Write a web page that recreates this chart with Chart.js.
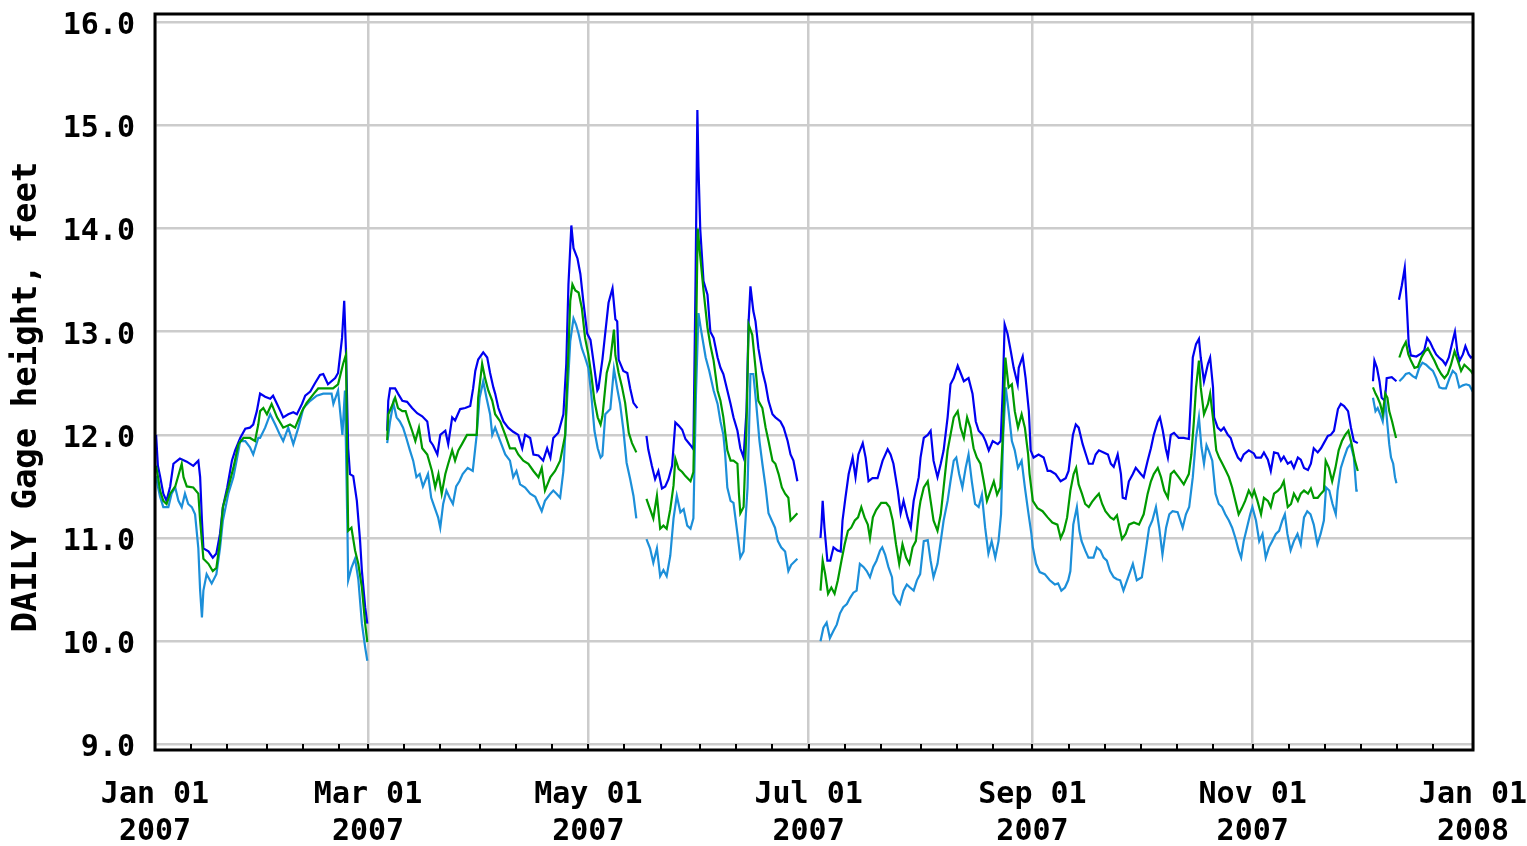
<!DOCTYPE html>
<html lang="en">
<head>
  <meta charset="UTF-8">
  <title>DAILY Gage height, feet - 2007</title>
  <script src="https://cdn.jsdelivr.net/npm/chart.js"></script>
  <style>
    html, body { margin: 0; padding: 0; background: #ffffff; }
    #wrap { width: 1527px; height: 846px; position: relative; }
  </style>
</head>
<body>
  <div id="wrap"><canvas id="gageChart"></canvas></div>

  <script>
    // day offset from Jan 01 2007, gage height in feet; null = no data
    const maxSeries = [
      [0.3,12.0],[0.8,11.7],[1.4,11.6],[2.3,11.43],[3.2,11.36],[4.2,11.5],[5.1,11.72],[6.9,11.77],[8.8,11.74],[10.6,11.7],[12,11.75],[12.5,11.59],[13,11.17],[13.4,10.9],[14.8,10.87],[16,10.81],[17,10.85],[18,11.04],[18.8,11.3],[20,11.49],[21.3,11.75],[22.2,11.85],[23.6,11.97],[25,12.06],[26.3,12.07],[27.2,12.1],[28.2,12.23],[29.1,12.4],[30.5,12.37],[31.9,12.35],[32.7,12.38],[33.8,12.3],[34.6,12.24],[35.5,12.17],[36.9,12.2],[38.3,12.22],[39.3,12.2],[40.7,12.3],[41.6,12.38],[43,12.42],[44.3,12.5],[45.7,12.58],[46.6,12.59],[47.9,12.49],[49.9,12.55],[50.7,12.6],[51.8,12.94],[52.4,13.3],[52.9,12.8],[53.5,11.87],[54,11.62],[54.9,11.6],[55.9,11.36],[56.8,10.97],[57.3,10.68],[58.2,10.33],[58.8,10.17],
      null,
      [64.3,12.04],[64.6,12.33],[65.1,12.45],[66.5,12.45],[67.3,12.4],[68.5,12.33],[69.8,12.32],[71.2,12.26],[72.6,12.21],[74,12.18],[75.4,12.13],[76.2,11.94],[77,11.9],[78.2,11.81],[79,12.0],[80.4,12.04],[81.2,11.91],[82.3,12.17],[83.1,12.14],[84.5,12.25],[85.9,12.26],[87.3,12.28],[88.1,12.45],[88.7,12.62],[89.5,12.73],[90.9,12.8],[92,12.75],[92.8,12.6],[93.7,12.46],[94.2,12.4],[95.1,12.26],[96.5,12.13],[97.8,12.07],[99.2,12.03],[100.6,12.0],[101.7,11.87],[102.5,12.0],[103.9,11.97],[104.8,11.81],[106.2,11.8],[107.5,11.75],[108.6,11.87],[109.5,11.78],[110.3,11.97],[111.7,12.02],[113.1,12.2],[113.9,12.69],[114.5,13.46],[115.3,14.03],[115.9,13.81],[117,13.71],[117.8,13.56],[118.6,13.3],[119.7,12.98],[120.6,12.92],[121.4,12.72],[122.5,12.43],[122.8,12.45],[123.9,12.73],[124.7,12.99],[125.6,13.28],[126.7,13.42],[127.5,13.12],[128,13.1],[128.4,12.73],[129.7,12.62],[130.8,12.6],[131.6,12.45],[132.5,12.31],[133.6,12.26],
      null,
      [136.1,11.99],[136.6,11.86],[137.6,11.7],[138.5,11.57],[139.4,11.65],[140.4,11.48],[141.3,11.5],[142.2,11.57],[143.2,11.7],[144.1,12.12],[145,12.09],[146,12.05],[146.9,11.96],[148.3,11.9],[149.1,11.86],[149.7,13.5],[150.2,15.15],[150.5,14.6],[151,13.99],[151.9,13.49],[153,13.36],[153.8,13.0],[154.7,12.94],[155.8,12.75],[156.6,12.65],[157.4,12.59],[158.5,12.43],[159.4,12.3],[160.2,12.17],[161.3,12.04],[162.1,11.87],[163,11.78],[163.8,12.23],[164.4,13.1],[164.9,13.44],[165.7,13.2],[166.3,13.1],[167.1,12.84],[168.2,12.62],[169.1,12.49],[169.9,12.33],[171,12.2],[171.8,12.17],[173.2,12.13],[174.1,12.07],[175.2,11.94],[176,11.81],[176.8,11.75],[177.9,11.55],
      null,
      [184.3,11.0],[184.6,11.15],[184.9,11.36],[185.4,11.1],[186.2,10.78],[187,10.78],[187.9,10.91],[189,10.88],[189.9,10.87],[190.4,11.17],[191.2,11.39],[192.1,11.62],[193.2,11.78],[194,11.59],[194.8,11.81],[196,11.92],[196.8,11.78],[197.6,11.55],[198.7,11.58],[200.1,11.58],[201.5,11.75],[202.9,11.86],[203.7,11.81],[204.5,11.72],[205.7,11.46],[206.5,11.24],[207.3,11.36],[208.4,11.2],[209.3,11.1],[210.1,11.36],[211.5,11.59],[212,11.78],[212.9,11.97],[214,12.0],[214.8,12.04],[215.6,11.75],[216.7,11.59],[217.6,11.72],[218.4,11.85],[219.5,12.17],[220.3,12.49],[221.2,12.55],[222.3,12.67],[223.1,12.6],[224,12.52],[225.3,12.55],[226.4,12.4],[227.3,12.13],[228.1,12.04],[229.2,12.0],[230,11.94],[230.9,11.85],[232,11.94],[233.4,11.91],[234.2,11.94],[234.8,12.46],[235.3,13.07],[236.1,12.98],[237,12.81],[237.8,12.65],[238.9,12.49],[239.2,12.65],[240.3,12.76],[241.1,12.55],[242,12.23],[242.5,11.85],[243.3,11.78],[244.7,11.81],[246.1,11.78],[247.2,11.65],[248,11.65],[249.4,11.62],[250.8,11.55],[252.2,11.58],[253,11.65],[254.2,12.0],[255,12.1],[255.8,12.07],[256.9,11.91],[257.8,11.81],[258.6,11.72],[259.7,11.72],[260.5,11.81],[261.4,11.85],[262.7,11.83],[263.9,11.81],[264.7,11.72],[265.5,11.69],[266.6,11.81],[267.5,11.62],[268,11.39],[268.8,11.38],[269.7,11.55],[270.8,11.62],[271.6,11.68],[273,11.62],[273.8,11.59],[274.9,11.75],[275.8,11.87],[276.6,12.0],[277.7,12.13],[278.3,12.17],[279.1,12.04],[279.9,11.87],[280.5,11.78],[281.3,12.0],[282.2,12.02],[283.5,11.97],[284.9,11.97],[286.3,11.96],[286.9,12.36],[287.4,12.75],[288.3,12.88],[289.1,12.93],[289.6,12.75],[290.5,12.52],[291.6,12.69],[292.2,12.75],[293,12.46],[293.3,12.17],[294.3,12.07],[295.2,12.04],[296,12.07],[297.1,12.0],[297.9,11.97],[298.8,11.87],[299.9,11.78],[300.7,11.75],[301.5,11.81],[302.9,11.85],[304.3,11.82],[304.9,11.78],[306.3,11.78],[307.1,11.83],[308.2,11.76],[309,11.65],[309.9,11.83],[311,11.82],[311.8,11.75],[312.6,11.79],[313.7,11.72],[314.6,11.74],[315.4,11.68],[316.5,11.78],[317.3,11.76],[318.2,11.68],[319.3,11.66],[320.1,11.72],[320.9,11.87],[322,11.83],[322.9,11.87],[323.7,11.92],[324.8,11.99],[325.6,12.0],[326.5,12.04],[327.6,12.25],[328.4,12.3],[329.3,12.28],[330.4,12.23],[331.2,12.07],[332,11.94],[333.1,11.92],
      null,
      [337.3,12.52],[337.7,12.72],[338.4,12.65],[339.1,12.52],[339.7,12.36],[340.6,12.33],[341.1,12.55],[342.5,12.56],[343.8,12.52],
      null,
      [344.5,13.31],[345.3,13.45],[346.1,13.62],[346.6,13.3],[347.2,12.88],[347.8,12.77],[349.3,12.76],[350.7,12.79],[351.5,12.82],[352.3,12.94],[353.1,12.9],[353.9,12.84],[354.8,12.78],[355.6,12.75],[356.6,12.72],[357.4,12.68],[358.3,12.75],[359.5,12.93],[360,13.0],[360.7,12.8],[361.3,12.72],[362.2,12.78],[362.9,12.86],[363.8,12.78],[364.4,12.75],[365,12.76]
    ];

    const meanSeries = [
      [0.3,11.7],[0.8,11.6],[1.4,11.46],[2.3,11.36],[3.2,11.33],[4.2,11.43],[5.6,11.5],[7.4,11.72],[7.9,11.59],[8.8,11.5],[10.6,11.49],[12,11.43],[12.5,11.17],[13.4,10.8],[14.8,10.75],[16,10.68],[17,10.71],[18,10.97],[18.8,11.3],[20.3,11.49],[21.7,11.68],[23.1,11.91],[24.5,11.97],[26.3,11.97],[27.7,11.94],[28.6,12.1],[29.1,12.23],[30,12.26],[31,12.2],[32.3,12.3],[33.8,12.17],[35.5,12.07],[37.4,12.1],[38.8,12.07],[40.7,12.23],[42,12.31],[44,12.4],[45.2,12.45],[47.4,12.45],[49.3,12.45],[50.7,12.49],[52.1,12.69],[52.9,12.78],[53.3,11.55],[53.5,11.07],[54.4,11.1],[55.4,10.88],[56.3,10.75],[57.3,10.52],[58.2,10.17],[58.8,9.99],
      null,
      [64.3,11.95],[64.6,12.2],[65.6,12.28],[66.5,12.36],[67.3,12.26],[68.5,12.23],[69.4,12.23],[70.3,12.13],[71.2,12.04],[72.1,11.94],[73.1,12.07],[74,11.87],[75.4,11.81],[76.7,11.65],[77.6,11.49],[78.5,11.62],[79.4,11.43],[80.4,11.62],[81.2,11.72],[82.3,11.85],[83.1,11.75],[84,11.85],[85,11.91],[86.4,12.0],[87.8,12.0],[89.1,12.0],[89.5,12.36],[90.6,12.69],[91.4,12.55],[92.3,12.43],[93.4,12.33],[94.2,12.2],[95.6,12.13],[97,12.0],[98.3,11.87],[99.7,11.87],[100.6,11.81],[102,11.75],[103.4,11.72],[104.8,11.65],[106.2,11.59],[107.1,11.68],[108,11.46],[109.5,11.59],[110.8,11.65],[112.2,11.75],[113.6,12.0],[114.3,12.65],[115,13.3],[115.6,13.46],[116.4,13.4],[117.3,13.38],[118.2,13.23],[119.1,12.94],[120,12.78],[120.8,12.59],[121.7,12.33],[122.6,12.17],[123.4,12.1],[123.9,12.18],[125.1,12.6],[126.1,12.73],[127.1,13.02],[127.5,12.77],[128.4,12.6],[129.3,12.47],[130.2,12.31],[131.2,12.02],[132.1,11.92],[133.3,11.83],
      null,
      [136.1,11.38],[137.1,11.28],[138,11.19],[139,11.41],[139.9,11.09],[140.8,11.12],[141.7,11.09],[142.7,11.28],[143.6,11.51],[144.1,11.77],[145,11.67],[146,11.64],[146.9,11.6],[148.3,11.55],[149.1,11.64],[149.8,12.86],[150.3,14.0],[151,13.73],[151.9,13.4],[153,13.04],[153.8,12.87],[154.7,12.72],[155.8,12.43],[156.6,12.33],[157.4,12.17],[158.5,11.85],[159.4,11.75],[160.2,11.75],[161.3,11.72],[161.7,11.43],[162.1,11.24],[163,11.3],[163.8,12.07],[164.4,13.07],[165.4,12.97],[166.3,12.65],[167.1,12.33],[168.2,12.26],[169.1,12.07],[169.9,11.94],[171,11.75],[171.8,11.72],[172.7,11.62],[173.6,11.49],[174.5,11.43],[175.4,11.39],[176,11.17],[176.8,11.2],[177.9,11.24],
      null,
      [184.3,10.49],[184.9,10.78],[185.6,10.65],[186.4,10.46],[187.3,10.52],[188.2,10.46],[189.1,10.59],[190.1,10.78],[191,10.94],[191.9,11.07],[192.8,11.1],[193.8,11.17],[194.7,11.2],[195.6,11.3],[196.5,11.2],[197.4,11.13],[198,11.0],[198.8,11.2],[199.7,11.27],[201.1,11.34],[202.5,11.34],[203.4,11.3],[204.3,11.17],[205.2,10.94],[206.1,10.75],[207,10.94],[208,10.81],[208.9,10.75],[209.8,10.91],[210.7,10.97],[211.6,11.27],[212,11.36],[212.9,11.49],[214,11.55],[214.8,11.36],[215.6,11.17],[216.7,11.07],[217.6,11.23],[218.4,11.49],[219.5,11.85],[220.3,12.0],[221.2,12.17],[222.3,12.23],[223.1,12.07],[224,11.97],[224.9,12.17],[225.8,12.07],[226.7,11.87],[227.6,11.78],[228.6,11.72],[229.5,11.55],[230.4,11.36],[231.3,11.45],[232.3,11.55],[233.2,11.42],[234.1,11.49],[234.8,12.0],[235.5,12.75],[236.4,12.46],[237.3,12.49],[238.1,12.23],[239,12.07],[240,12.2],[240.9,12.07],[241.8,11.81],[242.2,11.62],[243.1,11.36],[244.4,11.29],[245.8,11.26],[247.2,11.2],[248.5,11.15],[249.9,11.13],[250.8,11.0],[251.7,11.07],[252.6,11.2],[253.5,11.46],[254.4,11.62],[255.1,11.68],[255.8,11.52],[256.7,11.43],[257.6,11.33],[258.6,11.3],[259.5,11.35],[260.4,11.39],[261.4,11.43],[262.3,11.33],[263.2,11.26],[264.6,11.2],[265.5,11.18],[266.4,11.22],[267.3,11.07],[267.8,10.99],[268.8,11.04],[269.7,11.13],[271.1,11.15],[272.5,11.13],[273.8,11.23],[274.9,11.43],[275.8,11.55],[276.6,11.62],[277.7,11.68],[278.6,11.59],[279.5,11.46],[280.5,11.39],[281.3,11.62],[282.2,11.65],[283.5,11.59],[284.9,11.52],[286.3,11.62],[287,11.81],[287.7,12.13],[288.3,12.46],[289.1,12.72],[289.6,12.46],[290.5,12.2],[291.6,12.3],[292.2,12.4],[293.1,12.13],[293.9,11.85],[294.7,11.78],[295.6,11.72],[296.6,11.65],[297.4,11.59],[298.3,11.49],[299.2,11.36],[300.1,11.23],[301,11.29],[301.9,11.36],[302.9,11.46],[303.8,11.4],[304.4,11.46],[305.3,11.36],[306.3,11.23],[307.1,11.39],[308.2,11.36],[309,11.3],[309.9,11.43],[311,11.46],[311.8,11.49],[312.6,11.55],[313.7,11.3],[314.6,11.33],[315.4,11.43],[316.5,11.36],[317.3,11.43],[318.2,11.46],[319.3,11.43],[320.1,11.48],[320.9,11.39],[322,11.39],[322.9,11.43],[323.7,11.46],[324.2,11.75],[325.1,11.68],[326,11.55],[326.9,11.68],[327.8,11.85],[328.7,11.94],[329.6,12.0],[330.5,12.04],[331.4,11.91],[332.3,11.75],[333.1,11.65],
      null,
      [337.3,12.46],[338,12.4],[338.6,12.36],[339.3,12.3],[340,12.2],[340.7,12.4],[341.3,12.36],[341.8,12.23],[342.6,12.13],[343.2,12.04],[343.7,11.97],
      null,
      [344.6,12.75],[345.5,12.84],[346.4,12.9],[347.1,12.78],[347.8,12.72],[348.8,12.65],[349.7,12.66],[350.7,12.75],[351.5,12.8],[352.5,12.84],[353.4,12.78],[354.3,12.72],[355.2,12.65],[356.2,12.59],[357.1,12.55],[358,12.59],[358.9,12.68],[359.9,12.81],[360.8,12.72],[361.7,12.62],[362.6,12.68],[363.5,12.65],[364.4,12.62],[365,12.59]
    ];

    const minSeries = [
      [0.3,11.6],[0.8,11.5],[1.4,11.4],[2.3,11.3],[3.7,11.3],[4.6,11.43],[5.6,11.49],[6.5,11.36],[7.4,11.3],[8.3,11.43],[9.2,11.33],[10.2,11.3],[11.1,11.23],[12,10.9],[12.5,10.49],[13,10.23],[13.4,10.49],[14.3,10.65],[15.7,10.56],[17,10.65],[18,10.9],[18.8,11.17],[20.3,11.43],[21.7,11.59],[22.6,11.75],[23.6,11.94],[25,11.94],[26.3,11.88],[27.2,11.81],[28.6,11.97],[29.1,11.97],[30.5,12.07],[31.9,12.2],[33.3,12.1],[34.6,12.0],[35.5,11.94],[36.9,12.07],[38.3,11.91],[39.7,12.07],[41.1,12.26],[43,12.33],[44.8,12.38],[46.6,12.4],[48.9,12.4],[49.4,12.3],[50.7,12.43],[51.9,12.0],[52.6,12.43],[53.3,11.07],[53.5,10.59],[54.4,10.71],[55.4,10.8],[56.3,10.6],[57.3,10.17],[58.2,9.94],[58.8,9.81],
      null,
      [64.3,11.92],[65.1,12.13],[66,12.31],[66.9,12.17],[67.8,12.13],[68.7,12.07],[69.6,11.97],[70.6,11.85],[71.5,11.75],[72.4,11.59],[73.3,11.62],[74.2,11.5],[75.6,11.62],[76.5,11.39],[77.4,11.3],[78.4,11.2],[79,11.1],[79.8,11.33],[80.7,11.46],[81.6,11.39],[82.5,11.33],[83.4,11.5],[84.3,11.55],[85.2,11.62],[86.6,11.68],[88,11.65],[89,11.97],[89.9,12.36],[90.9,12.52],[91.8,12.36],[92.8,12.2],[93.4,12.0],[94.2,12.07],[95.6,11.94],[97,11.81],[98.3,11.75],[99.2,11.59],[100.1,11.65],[101.1,11.52],[102.5,11.49],[103.9,11.43],[105.3,11.4],[106.2,11.33],[107.1,11.26],[108,11.36],[109.5,11.43],[110.3,11.46],[111.2,11.43],[112.2,11.39],[113.1,11.65],[114.1,12.33],[115,12.91],[115.9,13.13],[116.6,13.07],[117.3,12.98],[118.2,12.84],[119.1,12.75],[120,12.65],[120.8,12.4],[121.7,12.04],[122.6,11.87],[123.4,11.78],[123.9,11.8],[124.7,12.2],[126.1,12.25],[127.1,12.64],[128,12.45],[128.8,12.3],[129.7,12.05],[130.6,11.73],[131.6,11.57],[132.5,11.41],[133.3,11.19],
      null,
      [136.1,10.99],[137.1,10.9],[138,10.76],[139,10.9],[139.9,10.63],[140.8,10.69],[141.7,10.63],[142.7,10.83],[143.6,11.19],[144.5,11.41],[145.5,11.25],[146.4,11.28],[147.4,11.12],[148.3,11.09],[149.1,11.19],[149.8,12.38],[150.5,13.18],[151.2,13.02],[152.5,12.75],[153.5,12.62],[154.7,12.43],[155.8,12.3],[156.6,12.13],[157.4,12.0],[157.9,11.81],[158.5,11.49],[159.4,11.36],[160.2,11.34],[161.3,11.04],[162.1,10.81],[163,10.87],[164.1,11.49],[164.9,12.59],[165.7,12.59],[166.5,12.3],[167.4,11.94],[168.2,11.72],[169.1,11.49],[169.9,11.24],[170.8,11.17],[171.7,11.1],[172.5,10.97],[173.4,10.91],[174.5,10.87],[175.4,10.68],[176.2,10.74],[177.9,10.8],
      null,
      [184.3,10.0],[185.1,10.13],[186,10.18],[186.9,10.03],[187.9,10.1],[188.8,10.16],[189.7,10.27],[190.6,10.33],[191.6,10.36],[192.5,10.42],[193.4,10.47],[194.3,10.49],[195.2,10.75],[196.2,10.72],[197.1,10.68],[198,10.62],[198.9,10.72],[199.8,10.78],[200.8,10.88],[201.4,10.91],[202.2,10.84],[203.1,10.72],[204.1,10.62],[204.5,10.46],[205.4,10.4],[206.3,10.36],[207.3,10.49],[208.2,10.55],[209.1,10.52],[210.1,10.49],[211,10.59],[211.9,10.65],[212.9,10.97],[214,10.98],[214.8,10.78],[215.6,10.62],[216.7,10.75],[217.6,10.97],[218.4,11.17],[219.5,11.36],[220.3,11.55],[221.2,11.75],[221.9,11.78],[222.7,11.62],[223.6,11.49],[224.5,11.68],[225.3,11.81],[226.2,11.55],[227.1,11.33],[228.1,11.3],[229,11.42],[229.9,11.1],[230.8,10.85],[231.7,10.97],[232.7,10.81],[233.6,10.97],[234.3,11.23],[234.9,12.0],[235.6,12.46],[236.4,12.23],[237.3,11.94],[238.1,11.85],[239,11.68],[240,11.75],[240.9,11.49],[241.8,11.26],[242.7,11.04],[243.1,10.91],[244,10.75],[245,10.67],[246.4,10.65],[247.8,10.59],[249.2,10.55],[250.1,10.56],[251,10.49],[252,10.52],[252.9,10.59],[253.5,10.68],[254.3,11.13],[255.3,11.3],[256,11.07],[256.6,10.97],[257.6,10.88],[258.5,10.81],[259.9,10.81],[260.8,10.91],[261.8,10.88],[262.7,10.81],[263.6,10.78],[264.5,10.68],[265.5,10.62],[266.4,10.6],[267.3,10.59],[268.2,10.49],[269.2,10.59],[270.1,10.68],[270.8,10.75],[271.9,10.59],[273.3,10.62],[274.4,10.88],[275.3,11.1],[276.2,11.17],[277.2,11.3],[278.1,11.1],[279,10.84],[280,11.1],[280.9,11.23],[281.8,11.26],[283.2,11.25],[284.6,11.1],[285.5,11.23],[286.4,11.3],[287.4,11.59],[288.3,11.97],[289.1,12.17],[289.8,11.88],[290.5,11.72],[291.2,11.9],[291.9,11.84],[292.8,11.75],[293.7,11.43],[294.6,11.33],[295.5,11.3],[296.4,11.23],[297.4,11.17],[298.3,11.1],[299.2,11.0],[300.1,10.88],[300.8,10.81],[301.5,10.97],[302.4,11.1],[303.3,11.23],[303.9,11.3],[304.9,11.17],[305.8,10.97],[306.7,11.04],[307.6,10.81],[308.5,10.91],[309.4,10.97],[310.4,11.04],[311.3,11.07],[312.2,11.17],[312.9,11.23],[313.6,11.04],[314.5,10.88],[315.4,10.97],[316.4,11.04],[317.3,10.94],[318.2,11.2],[319.1,11.26],[320,11.23],[320.9,11.13],[321.9,10.94],[322.8,11.04],[323.7,11.17],[324.3,11.49],[325.2,11.46],[326.1,11.33],[327,11.23],[327.5,11.46],[328.4,11.68],[329.3,11.78],[330.2,11.87],[331.1,11.91],[332,11.78],[332.7,11.46],[333.1,11.46],
      null,
      [337.3,12.36],[338,12.23],[338.6,12.26],[339.3,12.2],[340,12.13],[340.7,12.33],[341.3,12.1],[341.8,11.91],[342.3,11.78],[342.9,11.72],[343.4,11.59],[343.8,11.53],
      null,
      [344.6,12.52],[345.5,12.55],[346.4,12.59],[347.3,12.6],[348.3,12.57],[349.2,12.55],[350.1,12.65],[351,12.7],[352,12.68],[352.9,12.65],[353.9,12.62],[354.8,12.55],[355.7,12.46],[356.6,12.45],[357.5,12.45],[358.5,12.55],[359.4,12.62],[360.3,12.59],[361.2,12.46],[362.2,12.48],[363.1,12.49],[364,12.48],[364.9,12.42]
    ];

    // major x ticks (day offsets) and their labels
    const monthTicks = [0, 59, 120, 181, 243, 304, 365];
    const monthLabels = [
      ['Jan 01', '2007'], ['Mar 01', '2007'], ['May 01', '2007'], ['Jul 01', '2007'],
      ['Sep 01', '2007'], ['Nov 01', '2007'], ['Jan 01', '2008']
    ];
    const monthStarts = [0, 31, 59, 90, 120, 151, 181, 212, 243, 273, 304, 334, 365];
    const yTicks = [9, 10, 11, 12, 13, 14, 15, 16];
    const yTitle = 'DAILY Gage height, feet';

    function toPoints(series) {
      let lastX = 0;
      return series.map(p => {
        if (p === null) return { x: lastX + 0.5, y: null };
        lastX = p[0];
        return { x: p[0], y: p[1] };
      });
    }

    const fontFace = "'DejaVu Sans Mono', 'Liberation Mono', monospace";

    const framePlugin = {
      id: 'frame',
      afterDraw(chart) {
        const ctx = chart.ctx;
        const a = chart.chartArea;
        const xs = chart.scales.x;
        ctx.save();
        // small date ticks along the bottom edge
        ctx.strokeStyle = '#000000';
        ctx.lineWidth = 2;
        monthStarts.forEach(m => {
          [0, 10, 20].forEach(off => {
            const d = m + off;
            if (d <= 0 || d >= 365) return;
            const px = Math.round(xs.getPixelForValue(d));
            ctx.beginPath();
            ctx.moveTo(px, a.bottom);
            ctx.lineTo(px, a.bottom - 6);
            ctx.stroke();
          });
        });
        ctx.lineWidth = 3;
        ctx.strokeRect(a.left, a.top, a.right - a.left, a.bottom - a.top);

        // y axis title, a little below the plot's middle as in the original
        ctx.translate(27, (a.top + a.bottom) / 2 + 15);
        ctx.rotate(-Math.PI / 2);
        ctx.fillStyle = '#000000';
        ctx.font = "bold 34px " + fontFace;
        ctx.textAlign = 'center';
        ctx.textBaseline = 'middle';
        ctx.fillText(yTitle, 0, 0);
        ctx.restore();
      }
    };

    const ctx = document.getElementById('gageChart').getContext('2d');
    new Chart(ctx, {
      type: 'line',
      data: {
        datasets: [
          { label: 'Mean', data: toPoints(meanSeries), borderColor: '#009a00', order: 0 },
          { label: 'Minimum', data: toPoints(minSeries), borderColor: '#1c8fd9', order: 1 },
          { label: 'Maximum', data: toPoints(maxSeries), borderColor: '#0000f0', order: 2 }
        ]
      },
      options: {
        responsive: true,
        maintainAspectRatio: false,
        animation: false,
        spanGaps: false,
        elements: {
          point: { radius: 0 },
          line: { borderWidth: 2.2, tension: 0, fill: false }
        },
        layout: { padding: { top: 14, right: 54, left: 0, bottom: 0 } },
        plugins: { legend: { display: false }, tooltip: { enabled: false } },
        scales: {
          x: {
            type: 'linear',
            min: 0,
            max: 365,
            afterBuildTicks: scale => { scale.ticks = monthTicks.map(v => ({ value: v })); },
            afterFit: scale => { scale.height = 96; scale.paddingLeft = 0; scale.paddingRight = 0; },
            grid: { color: '#cccccc', lineWidth: 2.5, drawTicks: false },
            border: { display: false },
            ticks: {
              autoSkip: false,
              maxRotation: 0,
              padding: 26,
              color: '#000000',
              font: { family: fontFace, size: 30, weight: 'bold', lineHeight: 1.25 },
              callback: (value, index) => monthLabels[index]
            }
          },
          y: {
            min: 8.945,
            max: 16.08,
            afterBuildTicks: scale => { scale.ticks = yTicks.map(v => ({ value: v })); },
            afterFit: scale => { scale.width = 155; scale.paddingTop = 0; scale.paddingBottom = 0; },
            grid: { color: '#cccccc', lineWidth: 2.5, drawTicks: false },
            border: { display: false },
            ticks: {
              padding: 20,
              labelOffset: 4,
              color: '#000000',
              font: { family: fontFace, size: 30, weight: 'bold' },
              callback: value => value.toFixed(1)
            }
          }
        }
      },
      plugins: [framePlugin]
    });
  </script>
</body>
</html>
